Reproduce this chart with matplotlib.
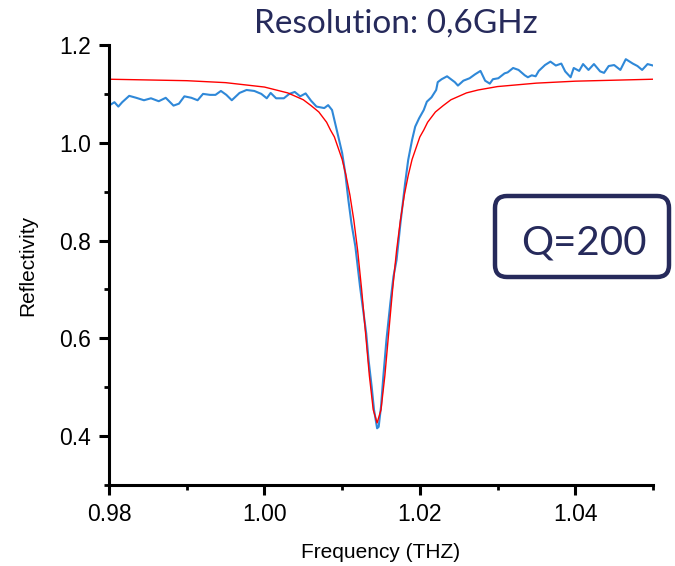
import matplotlib
matplotlib.use('agg')
import matplotlib.pyplot as plt
from matplotlib.patches import FancyBboxPatch
from matplotlib.ticker import FormatStrFormatter
from matplotlib.transforms import IdentityTransform

# measured reflectivity (blue)
meas_freq = [0.9800, 0.9807, 0.9812, 0.9817, 0.9826, 0.9835, 0.9845, 0.9854, 0.9864, 0.9873,
             0.9883, 0.9890, 0.9897, 0.9906, 0.9914, 0.9921, 0.9930, 0.9937, 0.9944, 0.9951,
             0.9958, 0.9968, 0.9977, 0.9987, 0.9996, 1.0003, 1.0008, 1.0015, 1.0025, 1.0032,
             1.0039, 1.0046, 1.0053, 1.0060, 1.0067, 1.0077, 1.0082, 1.0087, 1.0091, 1.0095,
             1.0100, 1.0104, 1.0108, 1.0112, 1.0117, 1.0123, 1.0127, 1.0131, 1.0134, 1.0138,
             1.0141, 1.0145, 1.0147, 1.0150, 1.0153, 1.0157, 1.0162, 1.0166, 1.0170, 1.0175,
             1.0181, 1.0185, 1.0190, 1.0194, 1.0199, 1.0205, 1.0209, 1.0215, 1.0221, 1.0223,
             1.0228, 1.0235, 1.0240, 1.0245, 1.0249, 1.0256, 1.0264, 1.0271, 1.0278, 1.0284,
             1.0290, 1.0294, 1.0301, 1.0309, 1.0313, 1.0320, 1.0327, 1.0335, 1.0339, 1.0344,
             1.0349, 1.0353, 1.0361, 1.0368, 1.0375, 1.0382, 1.0387, 1.0394, 1.0398, 1.0405,
             1.0410, 1.0417, 1.0424, 1.0432, 1.0437, 1.0443, 1.0450, 1.0458, 1.0465, 1.0474,
             1.0480, 1.0486, 1.0493, 1.0500]
meas_refl = [1.076, 1.083, 1.074, 1.083, 1.096, 1.092, 1.087, 1.091, 1.085, 1.092,
             1.076, 1.080, 1.095, 1.092, 1.087, 1.100, 1.098, 1.098, 1.106, 1.098,
             1.087, 1.102, 1.108, 1.106, 1.100, 1.091, 1.102, 1.091, 1.091, 1.100,
             1.104, 1.095, 1.101, 1.086, 1.074, 1.071, 1.077, 1.067, 1.040, 1.013,
             0.979, 0.938, 0.883, 0.835, 0.788, 0.706, 0.658, 0.610, 0.556, 0.501,
             0.454, 0.416, 0.419, 0.460, 0.522, 0.597, 0.672, 0.726, 0.760, 0.835,
             0.917, 0.965, 1.006, 1.033, 1.050, 1.067, 1.084, 1.093, 1.108, 1.124,
             1.130, 1.136, 1.130, 1.124, 1.117, 1.127, 1.132, 1.140, 1.147, 1.127,
             1.121, 1.130, 1.132, 1.142, 1.144, 1.153, 1.149, 1.138, 1.134, 1.138,
             1.136, 1.147, 1.159, 1.166, 1.158, 1.162, 1.146, 1.134, 1.153, 1.147,
             1.161, 1.149, 1.161, 1.146, 1.143, 1.157, 1.159, 1.149, 1.171, 1.162,
             1.157, 1.149, 1.161, 1.158]

# fitted curve (red)
fit_freq = [0.980, 0.990, 0.995, 1.000, 1.0015, 1.003, 1.005, 1.006, 1.007, 1.008,
            1.0085, 1.009, 1.0095, 1.010, 1.0105, 1.011, 1.0115, 1.012, 1.0125, 1.013,
            1.0135, 1.014, 1.0145, 1.015, 1.0155, 1.016, 1.0165, 1.017, 1.0175, 1.018,
            1.0185, 1.019, 1.0195, 1.020, 1.0205, 1.021, 1.022, 1.023, 1.024, 1.026,
            1.0275, 1.030, 1.035, 1.040, 1.050]
fit_refl = [1.130, 1.127, 1.123, 1.114, 1.108, 1.102, 1.088, 1.076, 1.063, 1.042,
            1.026, 1.012, 0.989, 0.966, 0.933, 0.893, 0.842, 0.779, 0.701, 0.613,
            0.524, 0.454, 0.427, 0.454, 0.524, 0.613, 0.701, 0.779, 0.842, 0.893,
            0.933, 0.966, 0.989, 1.012, 1.026, 1.042, 1.063, 1.076, 1.088, 1.102,
            1.108, 1.115, 1.122, 1.126, 1.130]

x_major = [0.98, 1.00, 1.02, 1.04]
x_minor = [0.99, 1.01, 1.03, 1.05]
y_major = [0.4, 0.6, 0.8, 1.0, 1.2]
y_minor = [0.3, 0.5, 0.7, 0.9, 1.1]

navy = '#262a5b'
plt.rcParams['font.family'] = ['Liberation Sans', 'DejaVu Sans']

fig = plt.figure(figsize=(6.75, 5.66), dpi=100)
ax = fig.add_axes([109 / 675, 1 - 485 / 566, 544 / 675, 440 / 566])

ax.plot(meas_freq, meas_refl, color='#2f88d8', lw=1.5)
ax.plot(fit_freq, fit_refl, color='red', lw=1.0)

ax.set_xlim(0.98, 1.05)
ax.set_ylim(0.3, 1.2)
ax.set_xticks(x_major)
ax.set_xticks(x_minor, minor=True)
ax.set_yticks(y_major)
ax.set_yticks(y_minor, minor=True)
ax.xaxis.set_major_formatter(FormatStrFormatter('%.2f'))
ax.yaxis.set_major_formatter(FormatStrFormatter('%.1f'))

for side in ['top', 'right']:
    ax.spines[side].set_visible(False)
for side in ['left', 'bottom']:
    ax.spines[side].set_linewidth(2.2)
ax.tick_params(which='major', length=7, width=2.2, labelsize=16.5, pad=6)
ax.tick_params(which='minor', length=3.5, width=2.0)

ax.set_xlabel('Frequency (THZ)', fontsize=15, labelpad=12)
ax.set_ylabel('Reflectivity', fontsize=15, labelpad=16)

fig.text(396 / 675, 1 - 33 / 566, 'Resolution: 0,6GHz', family='Lato',
         fontsize=24, color=navy, ha='center', va='baseline')

box = FancyBboxPatch((495, 566 - 277), 174, 81, boxstyle='round,pad=0,rounding_size=12',
                     transform=IdentityTransform(), fc='white', ec=navy, lw=3.2)
fig.add_artist(box)
fig.text(584 / 675, 1 - 254 / 566, 'Q=200', family='Lato', fontsize=29,
         color=navy, ha='center', va='baseline')

plt.savefig('out.png', dpi=100)
